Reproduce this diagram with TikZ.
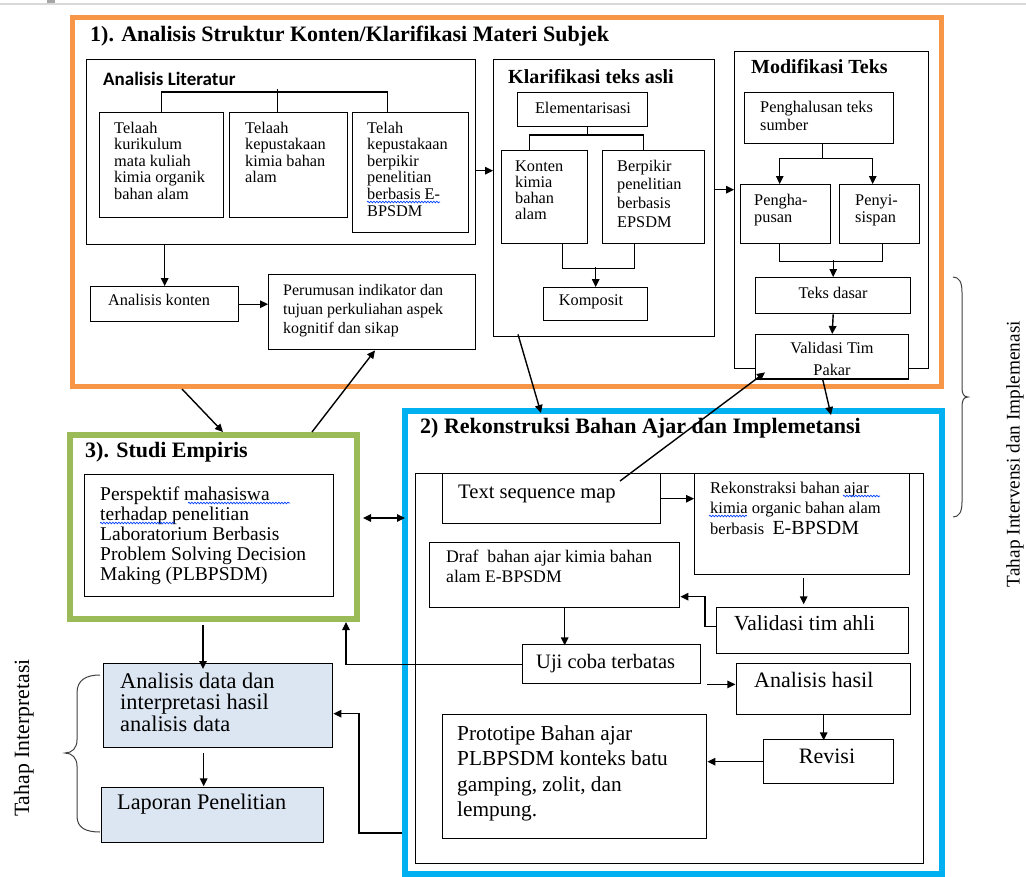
\documentclass[tikz,border=0pt]{standalone}
\usepackage{fontspec}
\setmainfont{Liberation Serif}
\newfontfamily\calib{Carlito}
\usetikzlibrary{arrows.meta,decorations.pathmorphing}
\definecolor{orng}{HTML}{F79646}
\definecolor{blu}{HTML}{00B0F0}
\definecolor{grn}{HTML}{9BBB59}
\definecolor{pale}{HTML}{DCE6F2}
\newcommand\myfs[2]{\fontsize{#1}{#2}\selectfont}
\newcommand\ml[1]{\vtop{\lineskiplimit=-100pt\relax\halign{##\hfil\cr#1\crcr}}}
\begin{document}
\begin{tikzpicture}[x=1pt,y=-1pt,
  box/.style={draw, line width=1.4pt, fill=white, inner sep=0pt, anchor=north west},
  frame/.style={inner sep=0pt, anchor=north west},
  lbl/.style={anchor=base west, inner sep=0pt},
  clbl/.style={anchor=base, inner sep=0pt},
  conn/.style={line width=1.4pt},
  arr/.style={line width=1.4pt, -{Triangle[length=8pt,width=7.5pt]}},
  darr/.style={line width=1.4pt, {Triangle[length=8pt,width=7.5pt]}-{Triangle[length=8pt,width=7.5pt]}},
  spell/.style={draw=blue!75!cyan, line width=0.7pt, decorate, decoration={snake, amplitude=0.8pt, segment length=3pt}},
  brc/.style={draw=black!75, line width=1pt},
  small/.style={font=\myfs{16.3}{16.6}},
]
\useasboundingbox (0,0) rectangle (1026,876);
\draw[gray!30, line width=1.5pt] (0,4) -- (1026,4);
\fill[gray!70] (47,0) rectangle (55,2.5);

% ===== Section 1 =====
\node[frame, draw=orng, line width=5pt, minimum width=869pt, minimum height=369.5pt] (sec1) at (70,14.5) {};
\node[lbl, font=\myfs{22}{22}\bfseries] (t1) at (90,41) {1). Analisis Struktur Konten/Klarifikasi Materi Subjek};

\node[box, minimum width=389pt, minimum height=185pt] (lit) at (86,59) {};
\node[lbl, font=\calib\myfs{19}{19}\bfseries] (tlit) at (103,85) {Analisis Literatur};
\node[box, minimum width=124pt, minimum height=105pt] (b1) at (99,112) {};
\node[box, minimum width=118pt, minimum height=105pt] (b2) at (229,112) {};
\node[box, minimum width=116pt, minimum height=120pt] (b3) at (352,112) {};
\node[lbl, small] (tb1) at (114,133) {\ml{Telaah\cr kurikulum\cr mata kuliah\cr kimia organik\cr bahan alam}};
\node[lbl, small] (tb2) at (245,133) {\ml{Telaah\cr kepustakaan\cr kimia bahan\cr alam}};
\node[lbl, small] (tb3) at (367,133) {\ml{Telah\cr kepustakaan\cr berpikir\cr penelitian\cr berbasis E-\cr BPSDM}};
\draw[conn] (b1.north) -- ++(0,-20) -| ([xshift=-23pt]b3.north);
\draw[conn] ([xshift=-11pt]b2.north) -- ++(0,-23);

\node[box, minimum width=148pt, minimum height=35pt] (ak) at (90,286) {};
\node[lbl, small] (tak) at (108,305) {Analisis konten};
\draw[arr] (ak.north |- lit.south) -- (ak.north);

\node[box, minimum width=207pt, minimum height=75pt] (per) at (268,274) {};
\node[lbl, font=\myfs{16}{19}] (tper) at (283,295) {\ml{Perumusan indikator dan\cr tujuan perkuliahan aspek\cr kognitif dan sikap}};
\draw[arr] (ak.east) -- (ak.east -| per.west);

% Klarifikasi
\node[box, minimum width=221pt, minimum height=277pt] (klar) at (493,59) {};
\node[lbl, font=\myfs{20}{20}\bfseries] (tklar) at (508,83) {Klarifikasi teks asli};
\draw[arr] ([yshift=-18.5pt]lit.east) -- ([yshift=-18.5pt]lit.east -| klar.west);
\node[box, minimum width=130pt, minimum height=34pt] (elem) at (517,92) {};
\node[clbl, small] (telem) at (583,113) {Elementarisasi};
\node[box, minimum width=86pt, minimum height=93pt] (kon) at (501,150) {};
\node[box, minimum width=102pt, minimum height=93pt] (ber) at (602,150) {};
\node[lbl, font=\myfs{16.3}{16.2}] (tkon) at (515,171) {\ml{Konten\cr kimia\cr bahan\cr alam}};
\node[lbl, font=\myfs{16.3}{18.8}] (tber) at (617,171) {\ml{Berpikir\cr penelitian\cr berbasis\cr EPSDM}};
\draw[conn] ([xshift=5pt]elem.south) -- ++(0,9);
\draw[conn] ([xshift=-15pt]kon.north) -- ++(0,-15) -| ([xshift=-10pt]ber.north);
\node[box, minimum width=104pt, minimum height=33pt] (komp) at (543,287) {};
\node[clbl, small] (tkomp) at (591,305) {Komposit};
\draw[conn] ([xshift=18pt]kon.south) -- ++(0,24) -| ([xshift=-19pt]ber.south);
\draw[arr] ([yshift=20pt]komp.north) -- (komp.north);

% Modifikasi
\node[box, minimum width=194pt, minimum height=317pt] (mod) at (734,51) {};
\node[lbl, font=\myfs{20}{20}\bfseries] (tmod) at (751,73) {Modifikasi Teks};
\draw[arr] ([yshift=8.5pt]klar.east) -- ([yshift=8.5pt]klar.east -| mod.west);
\node[box, minimum width=149pt, minimum height=51pt] (pgh) at (744,92) {};
\node[lbl, font=\myfs{16.3}{18}] (tpgh) at (760,112) {\ml{Penghalusan teks\cr sumber}};
\node[box, minimum width=90pt, minimum height=59pt] (hap) at (740,184) {};
\node[box, minimum width=80pt, minimum height=59pt] (sip) at (839,184) {};
\node[lbl, font=\myfs{16.3}{17}] (thap) at (754,205) {\ml{Pengha-\cr pusan}};
\node[lbl, font=\myfs{16.3}{17}] (tsip) at (855,205) {\ml{Penyi-\cr sispan}};
\draw[conn] ([xshift=3.5pt]pgh.south) -- ++(0,14) coordinate (sp);
\draw[arr] (sp) -| ([xshift=-6pt]hap.north);
\draw[arr] (sp) -| ([xshift=-7pt]sip.north);
\node[box, minimum width=155pt, minimum height=36pt] (td) at (755,277) {};
\node[clbl, small] (ttd) at (833,298) {Teks dasar};
\draw[conn] ([xshift=-6pt]hap.south) -- ++(0,17) -| ([xshift=3pt]sip.south);
\draw[arr] ([yshift=17pt]td.north) -- (td.north);
\node[box, minimum width=153pt, minimum height=44pt] (val) at (755,334) {};
\draw[arr] (td.south) -- (val.north);
\begin{scope}
\clip (755,334) rectangle (908,377);
\node[clbl, small] (tval1) at (832,353) {Validasi Tim};
\node[clbl, small] (tval2) at (832,375) {Pakar};
\end{scope}
\draw[line width=1.4pt] (val.south west) -- (val.south east);

% ===== Section 2 =====
\node[frame, draw=blu, line width=6pt, minimum width=537pt, minimum height=463pt] (sec2) at (402,408) {};
\node[lbl, font=\myfs{22}{22}\bfseries] (t2) at (420,433) {2) Rekonstruksi Bahan Ajar dan Implemetansi};
\node[box, fill=none, minimum width=508pt, minimum height=390pt] (inn) at (415,473) {};

\node[box, minimum width=218pt, minimum height=50pt] (tsm) at (442,473) {};
\node[lbl, font=\myfs{20.6}{20.6}] (ttsm) at (458,498) {Text sequence map};
\node[box, minimum width=215pt, minimum height=101pt] (rek) at (694,473) {};
\node[lbl, font=\myfs{16.5}{20.5}] (trek) at (710,493) {\ml{Rekonstraksi bahan ajar\cr kimia organic bahan alam\cr berbasis\ \ {\myfs{20}{20}E-BPSDM}}};
\draw[arr] (tsm.east) -- (tsm.east -| rek.west);

\node[box, minimum width=250pt, minimum height=65pt] (draf) at (429,542) {};
\node[lbl, font=\myfs{17.7}{20}] (tdraf) at (446,562) {\ml{Draf\ \ bahan ajar kimia bahan\cr alam E-BPSDM}};
\node[box, minimum width=192pt, minimum height=46pt] (vta) at (716,607) {};
\node[lbl, font=\myfs{21.5}{21.5}] (tvta) at (734,630) {Validasi tim ahli};
\draw[arr] ([xshift=1.5pt,yshift=-3pt]rek.south) -- ++(0,26);
\draw[arr] ([yshift=4pt]vta.west) -- ++(-11,0) |- ([yshift=-21.5pt]draf.east);

\node[box, minimum width=178pt, minimum height=39pt] (uji) at (522,644) {};
\node[lbl, font=\myfs{20.5}{20.5}] (tuji) at (536,668) {Uji coba terbatas};
\draw[arr] ([xshift=10pt]draf.south) -- ++(0,37);

\node[box, minimum width=174pt, minimum height=51pt] (ah) at (736,663) {};
\node[lbl, font=\myfs{22}{22}] (tah) at (754,687) {Analisis hasil};
\draw[arr] ([xshift=6pt]uji.south east) -- ++(28,0);

\node[box, minimum width=130pt, minimum height=44pt] (rev) at (763,739) {};
\node[clbl, font=\myfs{22}{22}] (trev) at (827,763) {Revisi};
\draw[arr] (ah.south) -- ++(0,25);

\node[box, minimum width=264pt, minimum height=124pt] (pro) at (442,714) {};
\node[lbl, font=\myfs{21.3}{25.5}] (tpro) at (457,740) {\ml{Prototipe Bahan ajar\cr PLBPSDM konteks batu\cr gamping, zolit, dan\cr lempung.}};
\draw[arr] (rev.west) -- (rev.west -| pro.east);

% ===== Section 3 =====
\node[frame, draw=grn, line width=6pt, minimum width=287pt, minimum height=184pt] (sec3) at (67,432) {};
\node[lbl, font=\myfs{22}{22}\bfseries] (t3) at (85,457) {3). Studi Empiris};
\node[box, minimum width=249pt, minimum height=122pt] (psp) at (84,474) {};
\node[lbl, font=\myfs{19.5}{20}] (tpsp) at (100,500) {\ml{Perspektif mahasiswa\cr terhadap penelitian\cr Laboratorium Berbasis\cr Problem Solving Decision\cr Making (PLBPSDM)}};

\node[box, fill=pale, minimum width=229pt, minimum height=84pt] (ad) at (103,663) {};
\node[lbl, font=\myfs{22.4}{21.5}] (tad) at (120,688) {\ml{Analisis data dan\cr interpretasi hasil\cr analisis data}};
\node[box, fill=pale, minimum width=222pt, minimum height=55pt] (lap) at (101,787) {};
\node[lbl, font=\myfs{22.3}{22.3}] (tlap) at (117,809) {Laporan Penelitian};

% ===== cross connectors =====
\draw[arr] ([xshift=25pt,yshift=3pt]klar.south west) -- ([xshift=139pt,yshift=-5pt]sec2.north west);
\draw[arr] ([xshift=-9.5pt]val.south) -- ([xshift=429pt,yshift=-7pt]sec2.north west);
\draw[arr] ([xshift=178pt,yshift=-8pt]tsm.north west) -- ([xshift=10pt,yshift=7pt]val.south west);
\draw[arr] (uji.west) -| ([xshift=132.5pt]sec3.south);
\draw[arr] ([yshift=-190.5pt]sec2.west) -- ++(-43,0) |- ([yshift=-8pt]ad.east);
\draw[arr] ([xshift=112pt]sec1.south west) -- ([xshift=156pt]sec3.north west);
\draw[arr] ([xshift=245pt]sec3.north west) -- ([xshift=107pt]per.south west);
\draw[darr] ([xshift=3pt,yshift=9pt]sec3.east) -- ++(42,0);
\draw[arr] ([xshift=-10.5pt,yshift=-3pt]sec3.south) -- ++(0,44);
\draw[arr] ([xshift=-14.5pt,yshift=-5pt]ad.south) -- ++(0,33);

% ===== spelling marks =====
\draw[spell] (367,202) -- (440,202);
\draw[spell] (188,503) -- (290,503);
\draw[spell] (100,523) -- (175,523);
\draw[spell] (843,496) -- (880,496);
\draw[spell] (709,516) -- (747,516);

% ===== braces and side labels =====
\draw[brc] (953,277) .. controls (959,277) and (962,282) .. (962,292) -- (962,388)
  .. controls (962,394) and (964,397) .. (968,397)
  .. controls (964,397) and (962,400) .. (962,406) -- (962,502)
  .. controls (962,512) and (959,517) .. (953,517);
\node[rotate=90, inner sep=0pt, font=\myfs{19.3}{19.3}] (tiv) at (1015,454) {Tahap Intervensi dan Implemenasi};
\draw[brc] (100,675) .. controls (86,675) and (77,680) .. (77,693) -- (77,740)
  .. controls (77,748) and (72,753) .. (65,753)
  .. controls (72,753) and (77,758) .. (77,766) -- (77,816)
  .. controls (77,828) and (86,832) .. (100,832);
\node[rotate=90, inner sep=0pt, font=\myfs{21.8}{21.8}] (tipr) at (24,738) {Tahap Interpretasi};
\end{tikzpicture}
\end{document}
